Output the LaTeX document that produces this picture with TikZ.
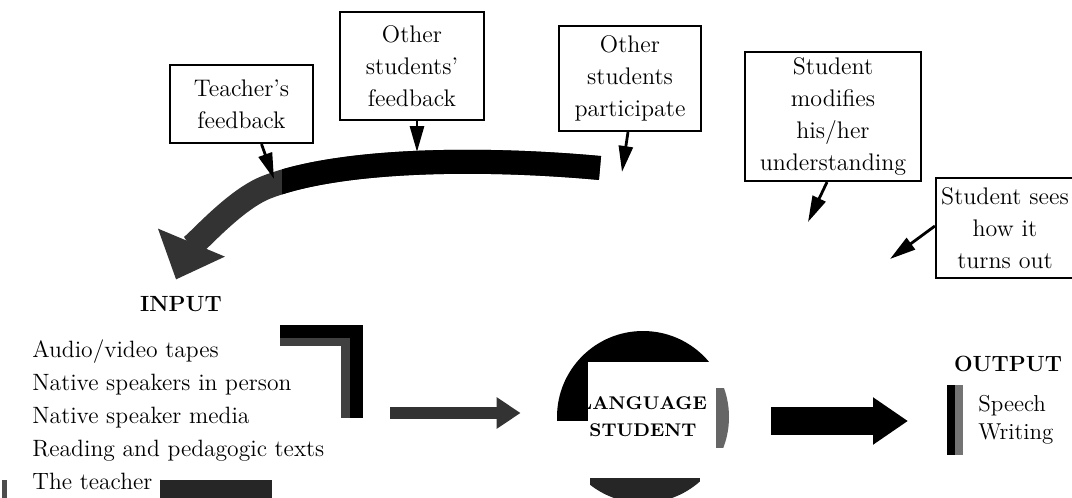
\documentclass[tikz,border=0pt]{standalone}
\usepackage{amsmath,amssymb}
\usepackage{tikz}
\usetikzlibrary{arrows.meta,calc}

\newcommand{\feedbackloop}{(loopa) .. controls (480,157) and (340,159) .. (267,187) .. controls (230,201) and (185,258) .. ([xshift=-2.5pt,yshift=6pt]input.north)}

\begin{document}
\begin{tikzpicture}[x=0.5pt,y=-0.5pt,
  fbbox/.style={draw,line width=1.1pt,align=center,inner sep=2pt,font=\fontsize{12}{16}\selectfont},
  fbarrow/.style={line width=1.4pt,-{Triangle[width=7pt,length=13pt]}},
  hd/.style={anchor=base,inner sep=2pt,font=\bfseries\fontsize{11}{12}\selectfont},
  item/.style={anchor=base west,inner sep=0pt,font=\fontsize{11.8}{14}\selectfont}]
\useasboundingbox (0,0) rectangle (1072,498);

\node[fbbox,minimum width=71.5pt,minimum height=39pt] (teacher) at (241.5,104) {Teacher's\\feedback};
\node[fbbox,minimum width=72pt,minimum height=54pt] (otherfb) at (412,66) {Other\\students'\\feedback};
\node[fbbox,minimum width=71pt,minimum height=52.5pt] (part) at (630,78.5) {Other\\students\\participate};
\node[fbbox,minimum width=88pt,minimum height=64.5pt] (modif) at (833,116.5) {Student\\modifies\\his/her\\understanding};
\node[fbbox,minimum width=69pt,minimum height=50pt] (sees) at (1005,228) {Student sees\\how it\\turns out};

\node[hd] (input) at (181,311) {INPUT};
\foreach \txt [count=\i] in {Audio/video tapes,Native speakers in person,Native speaker media,Reading and pedagogic texts,The teacher}
  \node[item] (in\i) at (32,{324+33*\i}) {\txt};

\node[circle,minimum size=86pt,inner sep=0pt,align=center,font=\bfseries\fontsize{9.2}{13.5}\selectfont] (student) at (643,417) {LANGUAGE\\STUDENT};

\node[hd] (output) at (1008,371) {OUTPUT};
\node[item,font=\fontsize{11.5}{14}\selectfont] (speech) at (978,411) {Speech};
\node[item,font=\fontsize{11.5}{14}\selectfont] (writing) at (978,439) {Writing};

\coordinate (loopa) at (600,168);
\coordinate (t1) at (274,179);
\coordinate (o1) at (417,152);
\coordinate (p1) at (622,172);
\coordinate (m1) at (808,222);
\coordinate (s1) at (890,259);
\coordinate (brk) at (363,413);
\coordinate (obrk) at (947,421);

\draw[line width=12pt,black!80,-{Triangle[width=35pt,length=20pt]}] \feedbackloop;
\begin{scope}
\clip (282,100) rectangle (610,260);
\draw[line width=12pt] \feedbackloop;
\end{scope}

\draw[fbarrow] ([xshift=10pt]teacher.south) -- (t1);
\draw[fbarrow] ([xshift=2.5pt]otherfb.south) -- (o1);
\draw[fbarrow] ([xshift=-1pt]part.south) -- (p1);
\draw[fbarrow] ([xshift=-3pt]modif.south) -- (m1);
\draw[fbarrow] ([yshift=1pt]sees.west) -- (s1);

\fill (280,325) rectangle (363,338);
\fill[black!75] (280,338) rectangle (341,346);
\fill (350,325) rectangle (363,418);
\fill[black!75] (341,338) rectangle (350,418);
\fill[black!85] (160,480) rectangle (272,498);
\fill[black!70] (2,480) rectangle (7,498);

\begin{scope}
\clip (student.center) circle (43pt);
\fill (550,328) rectangle (735,362);
\fill (550,362) rectangle (588,421);
\fill[black!60] (716,388) rectangle (730,448);
\fill[black!85] (590,478) rectangle (700,505);
\end{scope}

\draw[line width=6pt,black!80,-{Triangle[width=15pt,length=12pt]}] ([xshift=13.5pt]brk) -- ($(student.west |- brk)+(-36,0)$);
\draw[line width=14pt,-{Triangle[width=22.5pt,length=17.5pt]}] ($(student.east |- obrk)+(42,0)$) -- ([xshift=-19.5pt]obrk);

\fill (947,385) rectangle (955,455);
\fill[black!55] (955,385) rectangle (963,455);
\end{tikzpicture}
\end{document}
